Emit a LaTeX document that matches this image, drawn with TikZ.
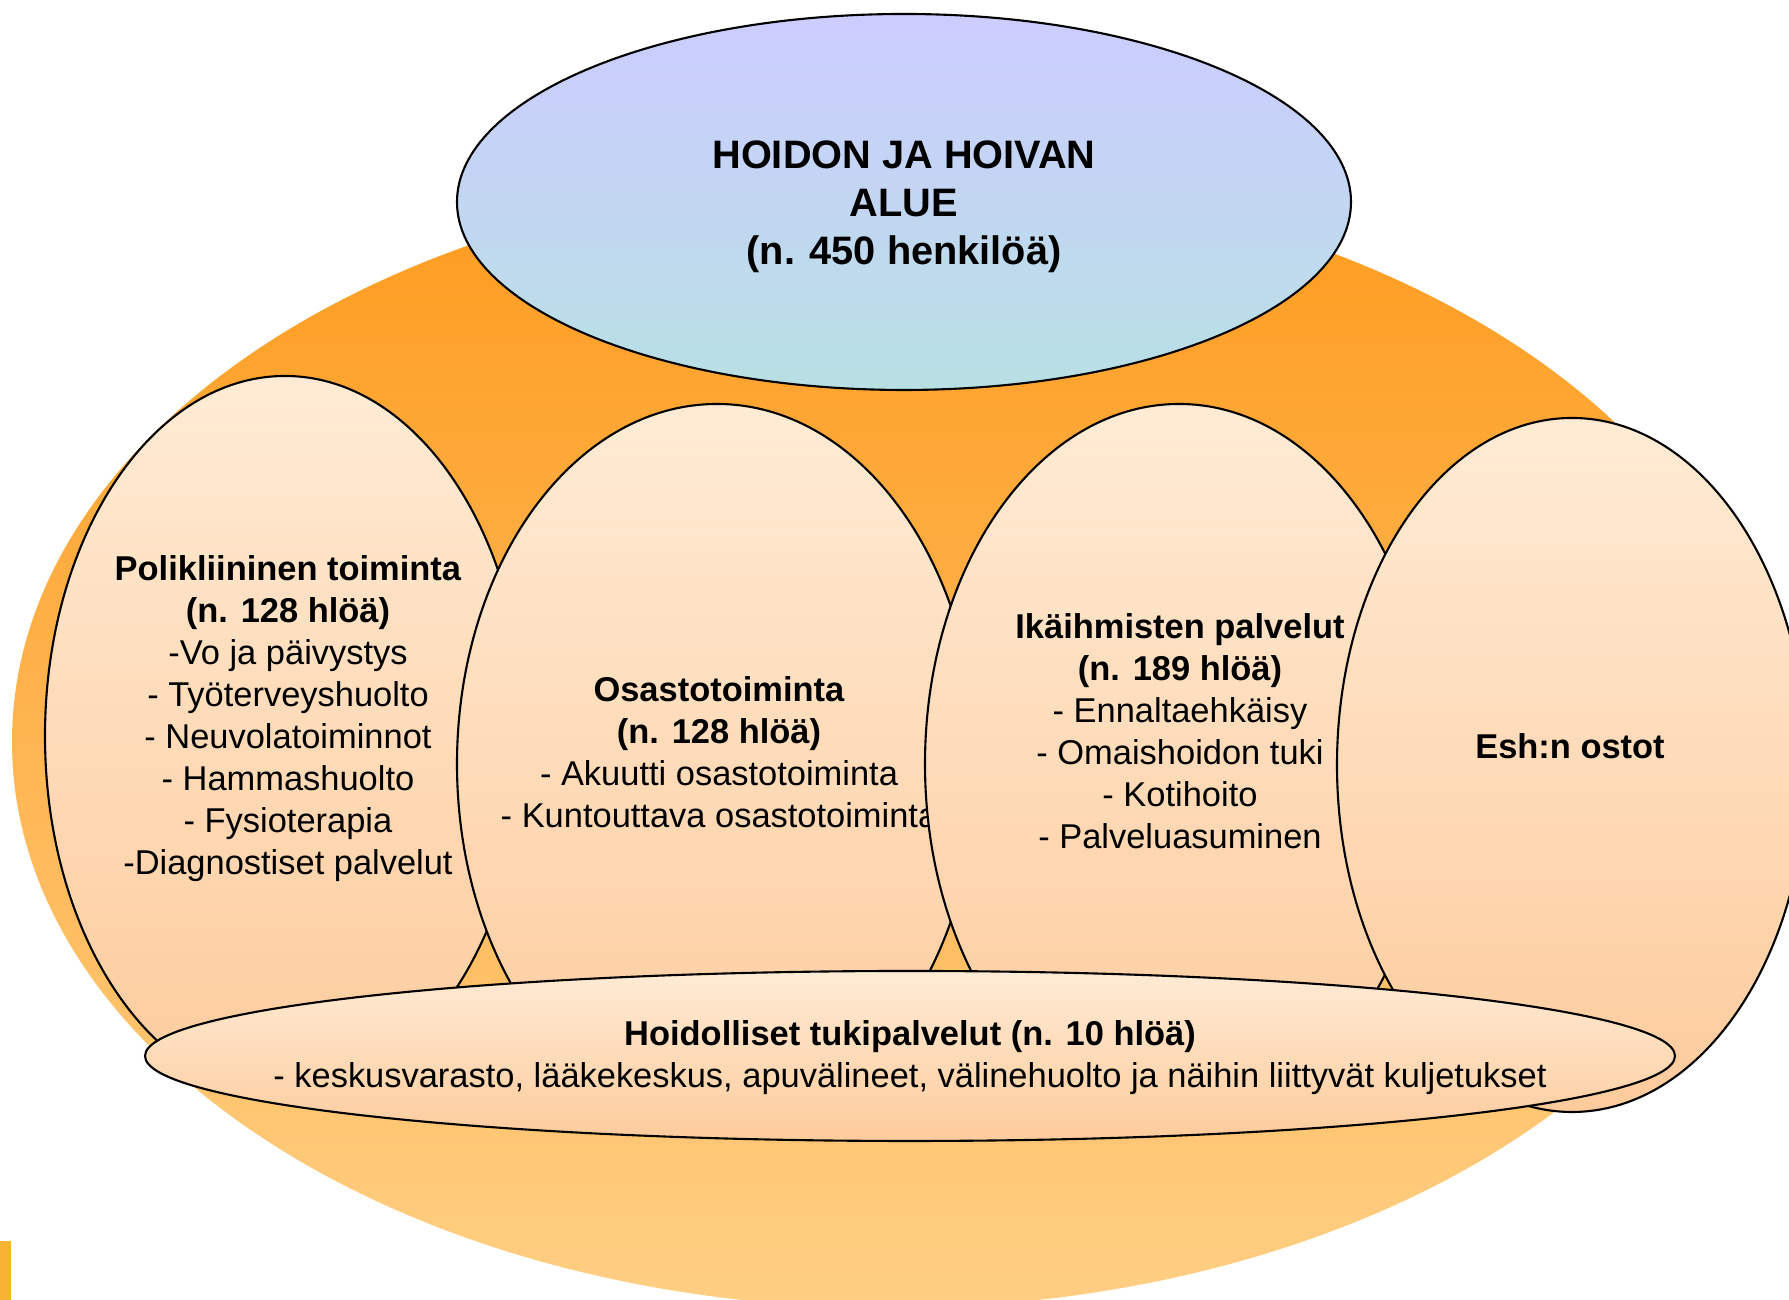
\documentclass[tikz,border=0pt]{standalone}
\usepackage{fontspec}
\setmainfont{Liberation Sans}
\definecolor{alatop}{RGB}{254,155,30}
\definecolor{alabot}{RGB}{255,207,132}
\definecolor{ylatop}{RGB}{204,204,255}
\definecolor{ylabot}{RGB}{184,224,228}
\definecolor{osatop}{RGB}{255,235,213}
\definecolor{osabot}{RGB}{253,203,156}
\definecolor{kulma}{RGB}{248,178,52}

\begin{document}
\begin{tikzpicture}[
		osa/.style={top color=osatop, bottom color=osabot, draw=black, line width=0.6pt},
		teksti/.style={align=center, inner sep=0pt, font=\fontsize{9.8}{11.95}\selectfont}]
	\useasboundingbox (0,0) rectangle (17.89,13);

	\shade[top color=alatop, bottom color=alabot] (8.90,5.58) ellipse (8.78 and 5.66);

	\draw[top color=ylatop, bottom color=ylabot, draw=black, line width=0.6pt] (9.04,10.98) ellipse (4.47 and 1.88);
	\node[align=center, inner sep=0pt, font=\bfseries\fontsize{11.3}{13.7}\selectfont] (alue) at (9.04,10.93) {HOIDON JA HOIVAN\\ALUE\\(n. 450 henkilöä)};

	\draw[osa] (2.85,5.64) ellipse (2.40 and 3.60);
	\node[teksti] (poli) at (2.88,5.81) {\textbf{Polikliininen toiminta}\\\textbf{(n. 128 hlöä)}\\-Vo ja päivystys\\- Työterveyshuolto\\- Neuvolatoiminnot\\- Hammashuolto\\- Fysioterapia\\-Diagnostiset palvelut};

	\draw[osa] (7.17,5.36) ellipse (2.60 and 3.60);
	\node[teksti] (osasto) at (7.19,5.48) {\textbf{Osastotoiminta}\\\textbf{(n. 128 hlöä)}\\- Akuutti osastotoiminta\\- Kuntouttava osastotoiminta};

	\draw[osa] (11.79,5.36) ellipse (2.54 and 3.60);
	\node[teksti] (ika) at (11.80,5.69) {\textbf{Ikäihmisten palvelut}\\\textbf{(n. 189 hlöä)}\\- Ennaltaehkäisy\\- Omaishoidon tuki\\- Kotihoito\\- Palveluasuminen};

	\draw[osa] (15.72,5.35) ellipse (2.35 and 3.47);
	\node[teksti, font=\bfseries\fontsize{9.8}{11.95}\selectfont] (esh) at (15.70,5.54) {Esh:n ostot};

	\draw[osa] (9.10,2.44) ellipse (7.65 and 0.85);
	\node[teksti] (tuki) at (9.10,2.42) {\textbf{Hoidolliset tukipalvelut (n. 10 hlöä)}\\- keskusvarasto, lääkekeskus, apuvälineet, välinehuolto ja näihin liittyvät kuljetukset};

	\fill[kulma] (0,0) rectangle (0.11,0.59);
\end{tikzpicture}
\end{document}
